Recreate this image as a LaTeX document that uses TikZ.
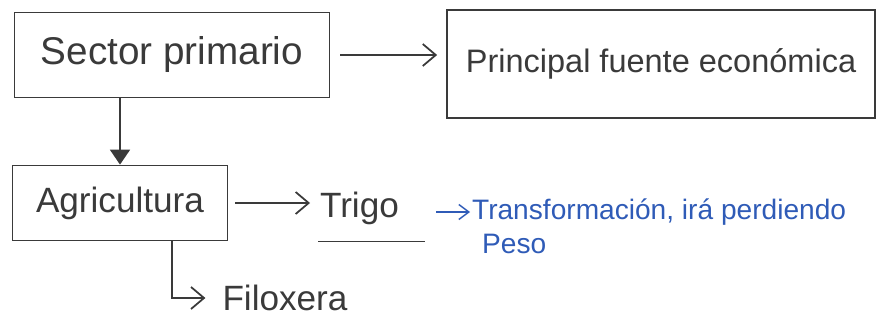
\documentclass[tikz,border=0pt]{standalone}
\usepackage{fontspec}
\setmainfont{Liberation Sans}
\usetikzlibrary{positioning,arrows.meta}
\definecolor{ink}{HTML}{3A3A3A}
\definecolor{pen}{HTML}{2F5BB7}

\begin{document}
\begin{tikzpicture}[x=0.2mm, y=-0.2mm,
  bx/.style={draw=ink, line width=1pt, inner sep=0pt, text=ink,
             font=\fontsize{20}{24}\selectfont},
  lbl/.style={inner sep=1pt, text=ink, font=\fontsize{20}{24}\selectfont},
  note/.style={inner sep=1pt, text=pen, font=\fontsize{16}{19}\selectfont},
  arr/.style={-{Straight Barb[length=2.6mm,width=4.4mm]}, line width=1pt,
              color=ink},
  arrdn/.style={-{Triangle[length=3mm,width=4mm]}, line width=1pt,
                color=ink},
  arrb/.style={-{Straight Barb[length=2mm,width=3mm]}, line width=0.8pt,
               color=pen}]
  \useasboundingbox (0,0) rectangle (880,321);
  \node[bx, minimum width=63mm, minimum height=17mm,
        font=\fontsize{22}{26}\selectfont]               (sp) at (172,55)
       {Sector primario};
  \node[bx, minimum width=85.6mm, minimum height=21.6mm,
        font=\fontsize{18.5}{22}\selectfont]             (pf) at (661,64)
       {Principal fuente económica};
  \node[bx, minimum width=43mm, minimum height=15mm]     (ag) at (120,203)
       {Agricultura};
  \node[lbl, anchor=west] (tr) at (318,208) {Trigo};
  \node[lbl] (fx) at (285,298) {Filoxera};
  \node[note, anchor=west] (tf) at (470,212) {Transformación, irá perdiendo};
  \node[note, anchor=north west] (ps) at ([xshift=2mm,yshift=-1mm]tf.south west) {Peso};
  \coordinate (tp) at (436,212);
  % underline of Trigo
  \draw[ink, line width=1pt] ([yshift=-3mm]tr.south west)
       -- ([xshift=21.4mm,yshift=-3mm]tr.south west);
  \draw[arr, shorten <=2mm, shorten >=1.8mm] (sp.east) -- (sp.east -| pf.west);
  \draw[arrdn] (sp.south -| ag.north) -- (ag.north);
  \draw[arr, shorten <=1.4mm, shorten >=1.6mm] (ag.east) -- (ag.east -| tr.west);
  \draw[arr] ([xshift=10.4mm]ag.south) |- ([xshift=-3mm]fx.west);
  \draw[arrb] (tp) -- (tf.west);
\end{tikzpicture}
\end{document}
